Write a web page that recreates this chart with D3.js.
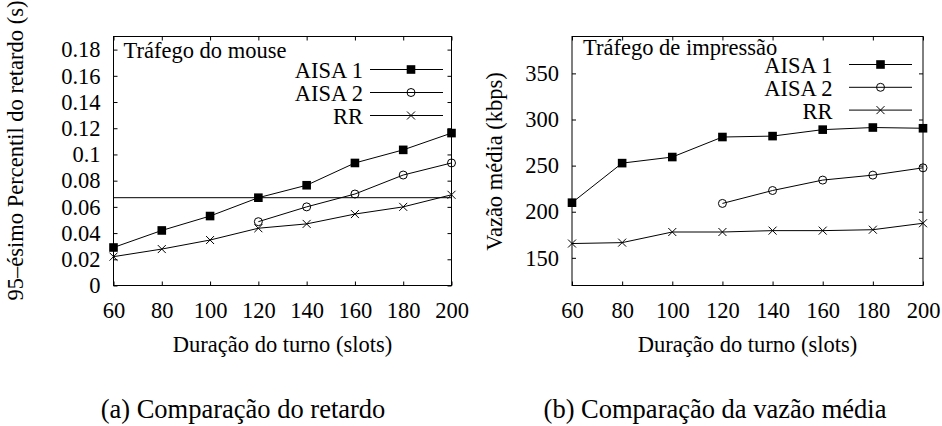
<!DOCTYPE html>
<html>
<head>
<meta charset="utf-8">
<script src="https://cdn.jsdelivr.net/npm/d3@7.9.0/dist/d3.min.js"></script>
<style>
  body { margin: 0; background: #fff; }
  svg { display: block; font-family: "Liberation Serif", "Times New Roman", serif; }
</style>
</head>
<body>
<div id="chart"></div>
<script>
// turn durations (slots)
const slots = [60, 80, 100, 120, 140, 160, 180, 200];
const slotsAisa2 = [120, 140, 160, 180, 200];
const xTickValues = [60, 80, 100, 120, 140, 160, 180, 200];

// (a) 95th percentile delay (s)
const delayAisa1 = [0.029, 0.042, 0.053, 0.067, 0.0765, 0.0935, 0.1035, 0.1163];
const delayAisa2 = [0.0487, 0.060, 0.0698, 0.0843, 0.0935];
const delayRR = [0.022, 0.0278, 0.0347, 0.0437, 0.047, 0.0545, 0.060, 0.0692];
const delayLimit = 0.067;
const delayTicks = [0, 0.02, 0.04, 0.06, 0.08, 0.1, 0.12, 0.14, 0.16, 0.18];
const delayTickLabels = ['0', '0.02', '0.04', '0.06', '0.08', '0.1', '0.12', '0.14', '0.16', '0.18'];

// (b) mean throughput (kbps)
const thrAisa1 = [209.8, 252.7, 259.3, 281, 282, 289, 291.3, 290.5];
const thrAisa2 = [209, 223, 234.3, 239.7, 247.6];
const thrRR = [165.5, 166.5, 178, 178, 179.5, 179.5, 180.5, 187.5];
const thrTicks = [150, 200, 250, 300, 350];
const thrTickLabels = ['150', '200', '250', '300', '350'];

const seriesNames = ['AISA 1', 'AISA 2', 'RR'];
const seriesMarkers = ['square', 'circle', 'cross'];

const svg = d3.select('#chart')
    .append('svg')
    .attr('width', 942)
    .attr('height', 426);

function drawMarker(g, type, x, y) {
    if (type === 'square') {
        g.append('rect')
            .attr('x', x - 4.3).attr('y', y - 4.3)
            .attr('width', 8.6).attr('height', 8.6)
            .attr('fill', '#000');
    } else if (type === 'circle') {
        g.append('circle')
            .attr('cx', x).attr('cy', y).attr('r', 4)
            .attr('fill', 'none').attr('stroke', '#000').attr('stroke-width', 1);
    } else {
        g.append('path')
            .attr('d', `M${x - 4},${y - 4}L${x + 4},${y + 4}M${x - 4},${y + 4}L${x + 4},${y - 4}`)
            .attr('stroke', '#000').attr('stroke-width', 1);
    }
}

function drawPanel(p) {
    const g = svg.append('g');
    const x = d3.scaleLinear().domain([60, 200]).range([p.left, p.right]);
    const y = d3.scaleLinear().domain(p.yDomain).range([285.5, 36.5]);

    // frame
    g.append('rect')
        .attr('x', p.left).attr('y', 36.5)
        .attr('width', p.right - p.left).attr('height', 249)
        .attr('fill', 'none').attr('stroke', '#000').attr('stroke-width', 1);

    // axes (gnuplot-style inward ticks, mirrored)
    const bottom = g.append('g')
        .attr('transform', `translate(0,285.5)`)
        .call(d3.axisBottom(x).tickValues(xTickValues).tickSizeInner(-4).tickSizeOuter(0).tickPadding(0));
    bottom.selectAll('text').attr('y', 32).attr('dy', 0);

    g.append('g')
        .attr('transform', `translate(0,36.5)`)
        .call(d3.axisTop(x).tickValues(xTickValues).tickSizeInner(-4).tickSizeOuter(0).tickFormat(''));

    g.append('g')
        .attr('transform', `translate(${p.left},0)`)
        .call(d3.axisLeft(y).tickValues(p.yTicks).tickFormat((d, i) => p.yLabels[i])
            .tickSizeInner(-4).tickSizeOuter(0).tickPadding(13));

    g.append('g')
        .attr('transform', `translate(${p.right},0)`)
        .call(d3.axisRight(y).tickValues(p.yTicks).tickSizeInner(-4).tickSizeOuter(0).tickFormat(''));

    g.selectAll('.domain').remove();
    g.selectAll('.tick line').attr('stroke', '#000');
    g.selectAll('.tick text')
        .attr('font-family', '"Liberation Serif", serif')
        .attr('font-size', 22.5)
        .attr('fill', '#000');

    // reference line
    if (p.hline !== undefined) {
        g.append('line')
            .attr('x1', p.left).attr('x2', p.right)
            .attr('y1', y(p.hline)).attr('y2', y(p.hline))
            .attr('stroke', '#000').attr('stroke-width', 1);
    }

    // series
    const line = d3.line().x(d => x(d[0])).y(d => y(d[1]));
    p.series.forEach((s, i) => {
        const pts = s.xs.map((v, j) => [v, s.ys[j]]);
        g.append('path')
            .attr('d', line(pts))
            .attr('fill', 'none').attr('stroke', '#000').attr('stroke-width', 1);
        pts.forEach(d => drawMarker(g, seriesMarkers[i], x(d[0]), y(d[1])));
    });

    // legend
    g.append('text')
        .attr('x', p.left + p.titleDx).attr('y', p.titleY)
        .attr('font-size', 22.5)
        .text(p.title);
    seriesNames.forEach((name, i) => {
        const ly = p.legendY + i * p.legendStep;
        g.append('text')
            .attr('x', p.legendTextX).attr('y', ly + 8.5)
            .attr('text-anchor', 'end')
            .attr('font-size', 22.5)
            .text(name);
        g.append('line')
            .attr('x1', p.legendLine[0]).attr('x2', p.legendLine[1])
            .attr('y1', ly).attr('y2', ly)
            .attr('stroke', '#000').attr('stroke-width', 1);
        drawMarker(g, seriesMarkers[i], (p.legendLine[0] + p.legendLine[1]) / 2 + p.markerDx, ly);
    });

    // axis titles
    g.append('text')
        .attr('transform', `translate(${p.yTitleX},${p.yTitleY}) rotate(-90)`)
        .attr('text-anchor', 'middle')
        .attr('font-size', 22.5)
        .text(p.yTitle);
    g.append('text')
        .attr('x', (p.left + p.right) / 2).attr('y', 351.5)
        .attr('text-anchor', 'middle')
        .attr('font-size', 22.5)
        .text('Duração do turno (slots)');

    // caption
    g.append('text')
        .attr('x', p.captionX).attr('y', 418)
        .attr('text-anchor', 'middle')
        .attr('font-size', 26.5)
        .text(p.caption);
}

drawPanel({
    left: 113.5, right: 451.5,
    yDomain: [0, 0.19],
    yTicks: delayTicks, yLabels: delayTickLabels,
    hline: delayLimit,
    series: [
        { xs: slots, ys: delayAisa1 },
        { xs: slotsAisa2, ys: delayAisa2 },
        { xs: slots, ys: delayRR }
    ],
    title: 'Tráfego do mouse', titleDx: 10, titleY: 58,
    legendTextX: 363, legendLine: [370, 443], markerDx: 4.5,
    legendY: 69.5, legendStep: 23,
    yTitle: '95–ésimo Percentil do retardo (s)', yTitleX: 23, yTitleY: 150.5,
    caption: '(a) Comparação do retardo', captionX: 243
});

drawPanel({
    left: 572, right: 923,
    yDomain: [120, 390],
    yTicks: thrTicks, yLabels: thrTickLabels,
    series: [
        { xs: slots, ys: thrAisa1 },
        { xs: slotsAisa2, ys: thrAisa2 },
        { xs: slots, ys: thrRR }
    ],
    title: 'Tráfego de impressão', titleDx: 11, titleY: 55,
    legendTextX: 832.5, legendLine: [849, 912], markerDx: 0,
    legendY: 64.5, legendStep: 22.8,
    yTitle: 'Vazão média (kbps)', yTitleX: 501.5, yTitleY: 161.5,
    caption: '(b) Comparação da vazão média', captionX: 715
});
</script>
</body>
</html>
